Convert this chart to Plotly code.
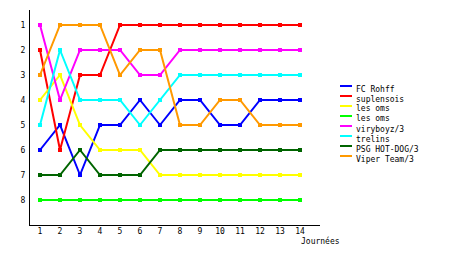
import plotly.graph_objects as go

days = list(range(1, 15))
ranks = list(range(1, 9))

team_names = ["FC Rohff", "suplensois", "les oms", "les oms", "viryboyz/3",
              "trelins", "PSG HOT-DOG/3", "Viper Team/3"]
team_colors = ["#0000FF", "#FF0000", "#FFFF00", "#00FF00", "#FF00FF",
               "#00FFFF", "#006400", "#FF9900"]

fc_rohff = [6, 5, 7, 5, 5, 4, 5, 4, 4, 5, 5, 4, 4, 4]
suplensois = [2, 6, 3, 3, 1, 1, 1, 1, 1, 1, 1, 1, 1, 1]
les_oms_yellow = [4, 3, 5, 6, 6, 6, 7, 7, 7, 7, 7, 7, 7, 7]
les_oms_green = [8, 8, 8, 8, 8, 8, 8, 8, 8, 8, 8, 8, 8, 8]
viryboyz = [1, 4, 2, 2, 2, 3, 3, 2, 2, 2, 2, 2, 2, 2]
trelins = [5, 2, 4, 4, 4, 5, 4, 3, 3, 3, 3, 3, 3, 3]
psg_hotdog = [7, 7, 6, 7, 7, 7, 6, 6, 6, 6, 6, 6, 6, 6]
viper_team = [3, 1, 1, 1, 3, 2, 2, 5, 5, 4, 4, 5, 5, 5]

series = [fc_rohff, suplensois, les_oms_yellow, les_oms_green,
          viryboyz, trelins, psg_hotdog, viper_team]

FONT = "DejaVu Sans Mono"
W, H = 460, 255
L, R, T, B = 30, 140, 10, 30
PW, PH = W - L - R, H - T - B


def px_x(px):
    return (px - L) / PW


def px_y(py):
    return (H - B - py) / PH


fig = go.Figure()
for name, color, vals in zip(team_names, team_colors, series):
    fig.add_trace(go.Scatter(
        x=days, y=vals, name=name, mode="lines+markers",
        line=dict(color=color, width=2),
        marker=dict(color=color, symbol="square", size=4),
        showlegend=False,
    ))

shapes = []
annotations = []
for i, (name, color) in enumerate(zip(team_names, team_colors)):
    yy = 86 + 10 * i
    shapes.append(dict(type="line", xref="paper", yref="paper",
                       x0=px_x(340), x1=px_x(352), y0=px_y(yy), y1=px_y(yy),
                       line=dict(color=color, width=2)))
    annotations.append(dict(xref="paper", yref="paper", x=px_x(354), y=px_y(yy + 3),
                            xanchor="left", yanchor="middle", showarrow=False,
                            text=name, font=dict(family=FONT, size=8, color="black")))

annotations.append(dict(xref="paper", yref="paper", x=px_x(320), y=px_y(241),
                        xanchor="center", yanchor="middle", showarrow=False,
                        text="Journées", font=dict(family=FONT, size=8, color="black")))

fig.update_layout(
    width=W, height=H,
    margin=dict(l=L, r=R, t=T, b=B, pad=0),
    paper_bgcolor="white", plot_bgcolor="white",
    font=dict(family=FONT, size=8, color="black"),
    shapes=shapes, annotations=annotations,
    xaxis=dict(range=[0.5, 15], tickvals=days, ticktext=[str(d) for d in days],
               showgrid=False, zeroline=False, showline=True, linecolor="black",
               linewidth=1, ticks="", ticklabelstandoff=-2,
               tickfont=dict(family=FONT, size=8, color="black")),
    yaxis=dict(range=[9, 0.4], tickvals=ranks, ticktext=[str(r) for r in ranks],
               showgrid=False, zeroline=False, showline=True, linecolor="black",
               linewidth=1, ticks="", ticklabelstandoff=2,
               tickfont=dict(family=FONT, size=8, color="black")),
)

fig.write_html("out.html")
